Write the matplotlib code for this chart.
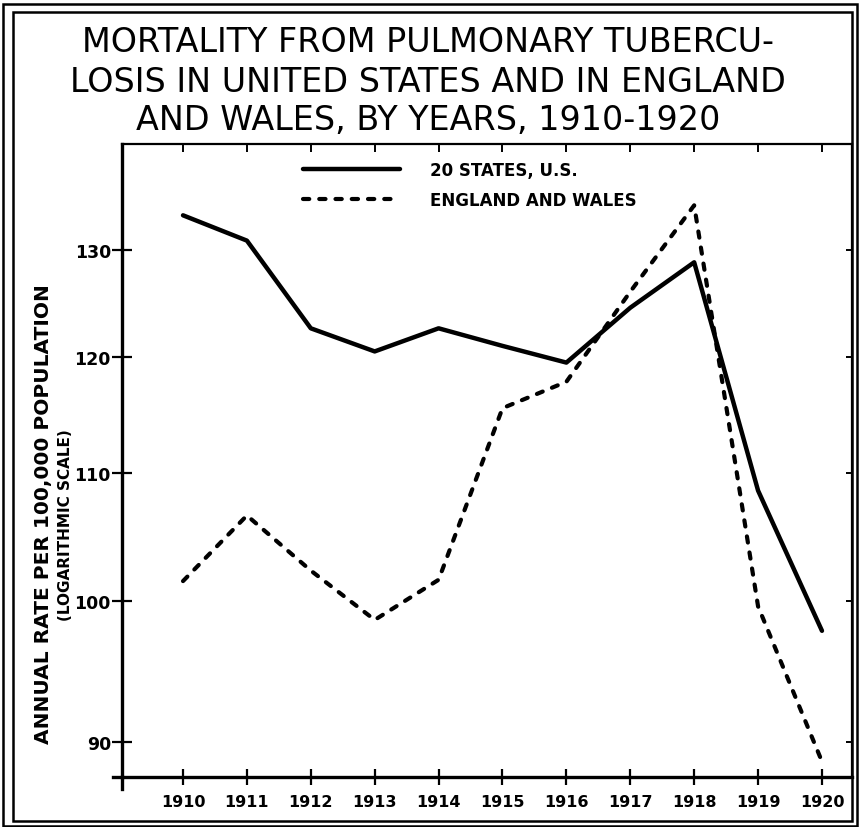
import matplotlib
matplotlib.use("Agg")
import matplotlib.pyplot as plt
from matplotlib.lines import Line2D
from matplotlib.patches import Rectangle
from matplotlib.ticker import FixedLocator, NullLocator, NullFormatter

plt.rcParams['font.family'] = ['DejaVu Sans']

years = [1910, 1911, 1912, 1913, 1914, 1915, 1916, 1917, 1918, 1919, 1920]
us_states = [133.4, 130.9, 122.6, 120.5, 122.6, 121.0, 119.5, 124.5, 128.8, 108.6, 97.8]
england_wales = [101.5, 106.6, 102.3, 98.6, 101.6, 115.5, 117.8, 126.0, 134.4, 99.6, 88.7]
y_ticks = [90, 100, 110, 120, 130]
x_labels = ["1910", "1911", "1912", "1913", "1914", "1915", "1916", "1917", "1918", "1919", "1920"]
title_lines = ["MORTALITY FROM PULMONARY TUBERCU-",
               "LOSIS IN UNITED STATES AND IN ENGLAND",
               "AND WALES, BY YEARS, 1910-1920"]
series_names = ["20 STATES, U.S.", "ENGLAND AND WALES"]
ylabel_main = "ANNUAL RATE PER 100,000 POPULATION"
ylabel_sub = "(LOGARITHMIC SCALE)"

W, H = 860, 828
fig = plt.figure(figsize=(W / 100, H / 100), dpi=100)

def fx(px):
    return px / W

def fy(py):
    return 1 - py / H

# axes placement (pixels)
ax_l, ax_r, ax_t, ax_b = 122, 852, 145, 778
ax = fig.add_axes([fx(ax_l), fy(ax_b), fx(ax_r - ax_l), (ax_b - ax_t) / H])

ax.plot(years, us_states, color='black', lw=3.2, solid_capstyle='round',
        solid_joinstyle='round', label=series_names[0])
ax.plot(years, england_wales, color='black', lw=3.0, dashes=(1.5, 2.4),
        dash_capstyle='round', label=series_names[1])

ax.set_yscale('log')
ax.set_ylim(87.68, 140.7)
ax.set_xlim(1909.045, 1920.47)

ax.yaxis.set_major_locator(FixedLocator(y_ticks))
ax.yaxis.set_minor_locator(NullLocator())
ax.yaxis.set_minor_formatter(NullFormatter())
ax.set_yticks(y_ticks)
ax.set_yticklabels([str(v) for v in y_ticks], fontsize=12.5, fontweight='bold')
ax.set_xticks(years)
ax.set_xticklabels(x_labels, fontsize=11.5, fontweight='bold')

ax.tick_params(axis='y', which='major', direction='inout', length=14, width=1.6,
               pad=1, left=True, right=False)
ax.tick_params(axis='x', which='major', direction='inout', length=11, width=1.6,
               pad=7, bottom=True, top=False)

for s in ['left', 'bottom']:
    ax.spines[s].set_linewidth(2.4)
for s in ['top', 'right']:
    ax.spines[s].set_linewidth(1.6)

# extra tick marks on top and right edges
ax2 = ax.secondary_xaxis('top')
ax2.set_xticks(years)
ax2.set_xticklabels([])
ax2.tick_params(direction='in', length=6, width=1.4)
ax2.spines['top'].set_visible(False)
ax3 = ax.secondary_yaxis('right')
ax3.set_yticks(y_ticks)
ax3.set_yticklabels([])
ax3.yaxis.set_minor_locator(NullLocator())
ax3.tick_params(direction='in', length=4, width=1.4)
ax3.spines['right'].set_visible(False)

# axis extensions (left spine below, bottom spine to the left)
ax.add_line(Line2D([0, 0], [0, -12 / (ax_b - ax_t)], transform=ax.transAxes,
                   color='black', lw=2.4, clip_on=False))
ax.add_line(Line2D([-9 / (ax_r - ax_l), 0], [0, 0], transform=ax.transAxes,
                   color='black', lw=2.4, clip_on=False))

leg = ax.legend(loc='upper left', bbox_to_anchor=((303 - ax_l) / (ax_r - ax_l), (ax_b - 162) / (ax_b - ax_t)),
                frameon=False, borderpad=0, borderaxespad=0, handlelength=5.8,
                handletextpad=1.8, labelspacing=0.7,
                prop={'size': 12, 'weight': 'bold'})

# figure borders
fig.add_artist(Rectangle((fx(3), fy(827)), fx(854), (827 - 5) / H, fill=False,
                         ec='black', lw=1.8, transform=fig.transFigure))
fig.add_artist(Rectangle((fx(13), fy(822)), fx(839), (822 - 13) / H, fill=False,
                         ec='black', lw=1.8, transform=fig.transFigure))

# title
for txt, yc in zip(title_lines, [43, 82, 120]):
    fig.text(fx(428), fy(yc), txt, ha='center', va='center', fontsize=24,
             fontweight='medium')

# y labels
fig.text(fx(44), fy(514), ylabel_main, rotation=90, ha='center', va='center',
         fontsize=14.5, fontweight='bold')
fig.text(fx(66), fy(525), ylabel_sub, rotation=90, ha='center', va='center',
         fontsize=11, fontweight='bold')

fig.savefig('out.png', dpi=100)
